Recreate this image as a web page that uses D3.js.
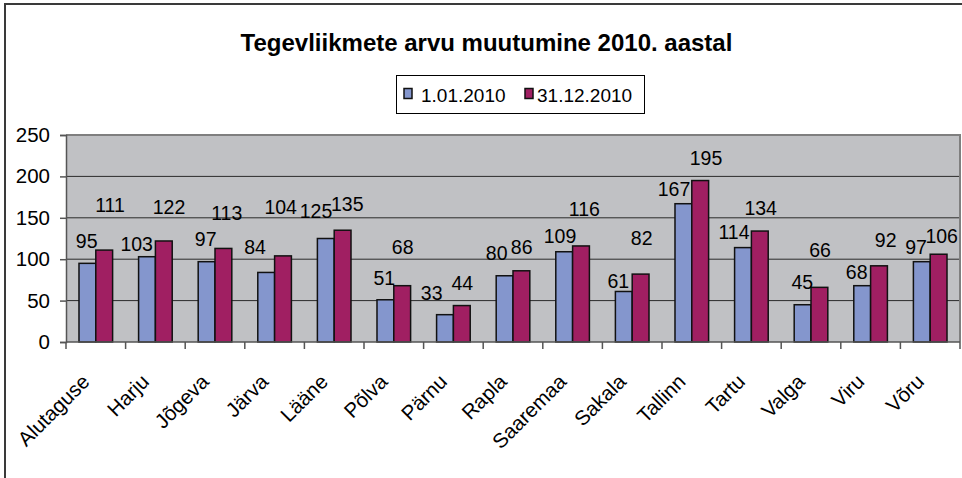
<!DOCTYPE html>
<html>
<head>
<meta charset="utf-8">
<script src="https://cdn.jsdelivr.net/npm/d3@7"></script>
<style>
  html, body { margin: 0; padding: 0; background: #fff; }
  svg { display: block; font-family: "Liberation Sans", Arial, sans-serif; }
</style>
</head>
<body>
<svg id="chart" width="962" height="478"></svg>
<script>
// ---- data ----
const categories = ["Alutaguse","Harju","Jõgeva","Järva","Lääne","Põlva","Pärnu","Rapla","Saaremaa","Sakala","Tallinn","Tartu","Valga","Viru","Võru"];
const seriesNames = ["1.01.2010", "31.12.2010"];
const values2010start = [95,103,97,84,125,51,33,80,109,61,167,114,45,68,97];
const values2010end = [111,122,113,104,135,68,44,86,116,82,195,134,66,92,106];
const yTickValues = [0,50,100,150,200,250];
const titleText = "Tegevliikmete arvu muutumine 2010. aastal";

// ---- label nudges (layout only, px) ----
const labelDx1 = [-0.7,-10.3,-0.9,-11.2,-9.8,-1.1,-13.3,-7.9,-4.2,-5.5,-9.4,-9,-0.3,-5.5,-5.8];
const labelDy1 = [-22.6,-12.4,-22.7,-25.7,-27.8,-21.5,-22,-22.5,-15.7,-10.5,-14.7,-15.9,-22.4,-14,-15];
const labelDx2 = [5.8,5.2,3.3,-2.3,4.7,0.5,0.5,0.3,3.3,1.1,5.8,0.9,0.6,6.7,3.1];
const labelDy2 = [-45,-34.3,-35.7,-49.2,-26.2,-39,-22.3,-23.5,-37,-35.8,-22.2,-22.7,-37.4,-25.8,-18.5];

const colors = ["#8496cd", "#a01f62"];

const svg = d3.select("#chart");
const plot = {left: 66, right: 960, top: 135, bottom: 342};

// outer chart frame
svg.append("rect").attr("x", 5).attr("y", 4).attr("width", 980).attr("height", 500)
  .attr("fill", "#fff").attr("stroke", "#3a3a3a").attr("stroke-width", 2);

// title
svg.append("text").attr("x", 486.5).attr("y", 51).attr("text-anchor", "middle")
  .attr("font-size", 24).attr("font-weight", "bold").attr("fill", "#000").text(titleText);

// scales
const x = d3.scaleBand().domain(categories).range([plot.left, plot.right]).paddingInner(0).paddingOuter(0);
const groupW = x.bandwidth() * 0.564;
const xs = d3.scaleBand().domain([0, 1]).range([(x.bandwidth() - groupW) / 2, (x.bandwidth() + groupW) / 2]);
const y = d3.scaleLinear().domain([0, 250]).range([plot.bottom, plot.top]);

// plot background
svg.append("rect").attr("x", plot.left).attr("y", plot.top)
  .attr("width", plot.right - plot.left).attr("height", plot.bottom - plot.top)
  .attr("fill", "#c0c1c4");

// gridlines
svg.append("g").selectAll("line").data(yTickValues.filter(v => v > 0 && v < 250)).join("line")
  .attr("x1", plot.left).attr("x2", plot.right)
  .attr("y1", d => y(d)).attr("y2", d => y(d))
  .attr("stroke", "#2b2b2b").attr("stroke-width", 1);

// plot border top/right
svg.append("path")
  .attr("d", `M${plot.left},${y(250)}H${plot.right}V${plot.bottom}`)
  .attr("fill", "none").attr("stroke", "#7f7f7f").attr("stroke-width", 2);

// bars
const seriesData = [values2010start, values2010end];
const g = svg.append("g");
categories.forEach((c, i) => {
  seriesData.forEach((vals, s) => {
    g.append("rect")
      .attr("x", x(c) + xs(s)).attr("y", y(vals[i]))
      .attr("width", xs.bandwidth()).attr("height", y(0) - y(vals[i]))
      .attr("fill", colors[s]).attr("stroke", "#111").attr("stroke-width", 1.5);
  });
});

// y axis
const yAxis = d3.axisLeft(y).tickValues(yTickValues).tickSize(6).tickPadding(10).tickFormat(d3.format("d"));
const ya = svg.append("g").attr("transform", `translate(${plot.left},0)`).call(yAxis);
ya.select(".domain").attr("stroke", "#555").attr("stroke-width", 1.5);
ya.selectAll(".tick line").attr("stroke", "#555").attr("stroke-width", 1.5);
ya.selectAll(".tick text").attr("font-size", 20.5).attr("fill", "#000")
  .attr("font-family", "Liberation Sans, Arial, sans-serif");

// x axis line & ticks at band boundaries
svg.append("line").attr("x1", plot.left).attr("x2", plot.right)
  .attr("y1", plot.bottom).attr("y2", plot.bottom)
  .attr("stroke", "#555").attr("stroke-width", 1.5);
const boundaries = categories.map(c => x(c)).concat([plot.right]);
svg.append("g").selectAll("line").data(boundaries).join("line")
  .attr("x1", d => d).attr("x2", d => d)
  .attr("y1", plot.bottom).attr("y2", plot.bottom + 7)
  .attr("stroke", "#555").attr("stroke-width", 1.5);

// x labels
svg.append("g").selectAll("text").data(categories).join("text")
  .attr("transform", d => `translate(${x(d) + x.bandwidth() / 2 - 5},${383}) rotate(-45)`)
  .attr("text-anchor", "end").attr("font-size", 20.5).attr("fill", "#000").text(d => d);

// data labels
const lg = svg.append("g").attr("font-size", 19.5).attr("fill", "#000").attr("text-anchor", "middle");
categories.forEach((c, i) => {
  lg.append("text")
    .attr("x", x(c) + xs(0) + xs.bandwidth() / 2 + labelDx1[i])
    .attr("y", y(values2010start[i]) + labelDy1[i] + 7)
    .text(values2010start[i]);
  lg.append("text")
    .attr("x", x(c) + xs(1) + xs.bandwidth() / 2 + labelDx2[i])
    .attr("y", y(values2010end[i]) + labelDy2[i] + 7)
    .text(values2010end[i]);
});

// legend
const leg = svg.append("g");
leg.append("rect").attr("x", 396.5).attr("y", 75.5).attr("width", 248).attr("height", 38)
  .attr("fill", "#fff").attr("stroke", "#000").attr("stroke-width", 1);
const legX = [404, 525];
const legTX = [421, 537];
seriesNames.forEach((n, s) => {
  leg.append("rect").attr("x", legX[s]).attr("y", 88.5).attr("width", 8).attr("height", 10)
    .attr("fill", colors[s]).attr("stroke", "#111").attr("stroke-width", 1.5);
  leg.append("text").attr("x", legTX[s]).attr("y", 101.5).attr("font-size", 19).attr("fill", "#000").text(n);
});
</script>
</body>
</html>
